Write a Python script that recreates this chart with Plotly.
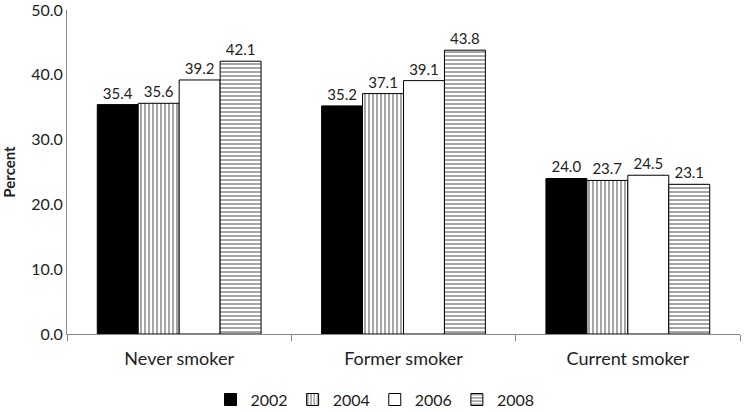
import plotly.graph_objects as go

CATEGORIES = ["Never smoker", "Former smoker", "Current smoker"]
YEARS = ["2002", "2004", "2006", "2008"]
VALUES = {
    "2002": [35.4, 35.2, 24.0],
    "2004": [35.6, 37.1, 23.7],
    "2006": [39.2, 39.1, 24.5],
    "2008": [42.1, 43.8, 23.1],
}
Y_TICKS = [0, 10, 20, 30, 40, 50]

STYLE = {
    "2002": dict(color="black", pattern=dict(shape="")),
    "2004": dict(color="white", pattern=dict(shape="|", size=4, solidity=0.35, fgcolor="black")),
    "2006": dict(color="white", pattern=dict(shape="")),
    "2008": dict(color="white", pattern=dict(shape="-", size=4, solidity=0.35, fgcolor="black")),
}
FONT = "Lato, 'Open Sans', sans-serif"

fig = go.Figure()
for yr in YEARS:
    st = STYLE[yr]
    fig.add_trace(go.Bar(
        x=CATEGORIES, y=VALUES[yr], name=yr,
        text=[f"{v:.1f}" for v in VALUES[yr]],
        textposition="outside", cliponaxis=False,
        textfont=dict(size=15, color="#222"),
        marker=dict(color=st["color"], pattern=st["pattern"],
                    line=dict(color="black", width=1)),
    ))

fig.update_layout(
    width=750, height=412,
    barmode="group", bargap=0.27, bargroupgap=0,
    plot_bgcolor="white", paper_bgcolor="white",
    font=dict(family=FONT, size=15, color="#222"),
    margin=dict(l=67, r=10, t=10, b=78, autoexpand=False),
    legend=dict(orientation="h", xref="container", x=0.5, xanchor="center",
                y=-0.15, yanchor="top",
                font=dict(size=16), itemwidth=30,
                traceorder="normal"),
    showlegend=True,
)
fig.update_yaxes(
    range=[0, 50], tickvals=Y_TICKS, ticktext=[f"{v:.1f}" for v in Y_TICKS],
    showline=True, linecolor="#888", linewidth=1, showgrid=False, zeroline=False,
    ticks="", tickfont=dict(size=16), ticklabeloverflow="allow",
    title=dict(text="<b>Percent</b>", font=dict(size=15), standoff=12),
)
fig.update_xaxes(
    showline=True, linecolor="#888", linewidth=1, showgrid=False,
    ticks="outside", tickson="boundaries", ticklen=6, tickcolor="#888",
    tickfont=dict(size=18), ticklabelstandoff=8,
)

# page body has a default 8px margin; drop it so the figure fills the window
fig.write_html("out.html", config={"displayModeBar": False},
               post_script="document.body.style.margin='0';")
